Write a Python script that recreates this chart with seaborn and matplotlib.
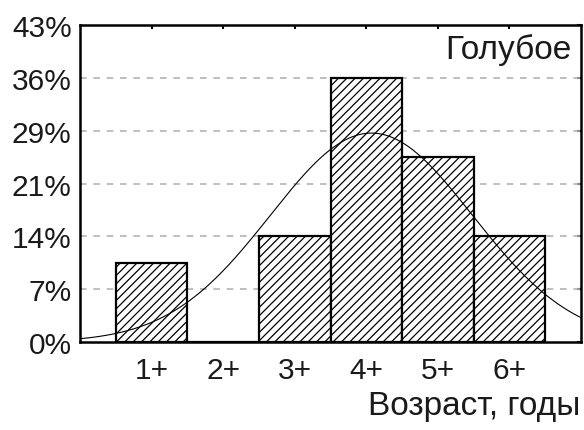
import numpy as np
import pandas as pd
import matplotlib
matplotlib.use("Agg")
import matplotlib.pyplot as plt
import seaborn as sns

# Age-class frequencies (number of fish per class)
ages = [1, 2, 3, 4, 5, 6]
age_labels = ["1+", "2+", "3+", "4+", "5+", "6+"]
counts = [3, 0, 4, 10, 7, 4]
series_title = "Голубое"
x_title = "Возраст, годы"

total = sum(counts)
percent = [100.0 * c / total for c in counts]
df = pd.DataFrame({"age": ages, "pct": percent})

# Normal curve fitted to the sample, scaled to percent per one-year class
sample = np.repeat(ages, counts)
mu = sample.mean()
sd = sample.std(ddof=1)
xs = np.linspace(0, 7, 300)
curve = pd.DataFrame({
    "age": xs,
    "pct": 100.0 * np.exp(-0.5 * ((xs - mu) / sd) ** 2) / (sd * np.sqrt(2 * np.pi)),
})

sns.set_style("white")
plt.rcParams["font.family"] = ["Liberation Sans", "DejaVu Sans"]
plt.rcParams["hatch.linewidth"] = 0.9
plt.rcParams["hatch.color"] = "black"

fig = plt.figure(figsize=(5.84, 4.31), dpi=100)
ax = fig.add_axes([80 / 584, 1 - 343 / 431, 501 / 584, 317 / 431])

sns.barplot(data=df, x="age", y="pct", native_scale=True, width=1.0,
            color="white", edgecolor="black", linewidth=1.6, ax=ax, zorder=2)
for p in ax.patches:
    p.set_hatch("////")

sns.lineplot(data=curve, x="age", y="pct", color="black", linewidth=0.8,
             ax=ax, zorder=3)

ymax = 100.0 * 6 / 14
yticks = [100.0 * k / 14 for k in range(7)]
ax.set_xlim(0, 7)
ax.set_ylim(0, ymax)
ax.set_xticks(ages)
ax.set_xticklabels(age_labels)
ax.set_yticks(yticks)
ax.set_yticklabels([f"{round(v)}%" for v in yticks])
ax.set_xlabel("")
ax.set_ylabel("")

for v in yticks[1:-1]:
    ax.axhline(v, color="#b4b4b4", linestyle=(0, (4, 4)), linewidth=1.2, zorder=1)

for s in ax.spines.values():
    s.set_visible(True)
    s.set_color("black")
    s.set_linewidth(1.8)

text_color = "#1a1a1a"
ax.tick_params(axis="both", direction="in", length=3, width=1.5, color="black",
               labelcolor=text_color, top=True, right=True, labelsize=21.5)
ax.tick_params(axis="x", pad=10)
ax.tick_params(axis="y", pad=6)

ax.text(0.982, 0.925, series_title, transform=ax.transAxes, ha="right",
        va="center", fontsize=24, color=text_color)
fig.text(0.994, 0.056, x_title, ha="right", va="center", fontsize=24,
         color=text_color)

fig.savefig("out.png", dpi=100)
